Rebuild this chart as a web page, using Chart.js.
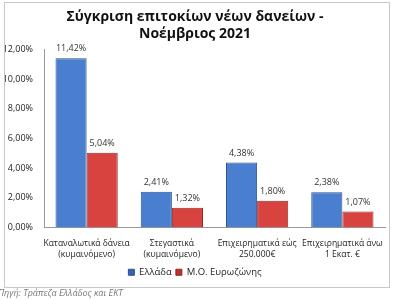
<!DOCTYPE html>
<html>
<head>
<meta charset="utf-8">
<script src="https://cdn.jsdelivr.net/npm/chart.js@4"></script>
<style>
    body { margin: 0; background: #fff; width: 393px; height: 300px; overflow: hidden; position: relative; }
    #box { position: absolute; left: 4px; top: 2px; width: 384px; height: 284px; border: 1px solid #c8c8c8; }
    #src { position: absolute; left: -2px; top: 286px; font: italic 9px "Open Sans", sans-serif; color: #777; }
</style>
</head>
<body>
<div id="box"><canvas id="chart" width="384" height="284"></canvas></div>
<div id="src">Πηγή: Τράπεζα Ελλάδος και ΕΚΤ</div>
<script>
const categories = [
    ['Καταναλωτικά δάνεια', '(κυμαινόμενο)'],
    ['Στεγαστικά', '(κυμαινόμενο)'],
    ['Επιχειρηματικά εώς', '250.000€'],
    ['Επιχειρηματικά άνω', '1 Εκατ. €']
];
const greece = [11.42, 2.41, 4.38, 2.38];
const eurozone = [5.04, 1.32, 1.80, 1.07];
const seriesNames = ['Ελλάδα', 'Μ.Ο. Ευρωζώνης'];

function fmt(v) {
    return v.toFixed(2).replace('.', ',') + '%';
}

// left-to-right shading so the bars look a bit rounded like the original
function shade(light, mid, dark) {
    return ctx => {
        const bar = ctx.element;
        if (!bar || bar.width === undefined) return mid;
        const c = ctx.chart.ctx;
        const g = c.createLinearGradient(bar.x - bar.width / 2, 0, bar.x + bar.width / 2, 0);
        g.addColorStop(0, light);
        g.addColorStop(0.25, mid);
        g.addColorStop(1, dark);
        return g;
    };
}

const valueLabels = {
    id: 'valueLabels',
    afterDatasetsDraw(chart) {
        const ctx = chart.ctx;
        ctx.save();
        ctx.font = '9px "Open Sans", sans-serif';
        ctx.fillStyle = '#333';
        ctx.textAlign = 'center';
        ctx.textBaseline = 'bottom';
        chart.data.datasets.forEach((ds, i) => {
            chart.getDatasetMeta(i).data.forEach((bar, j) => {
                ctx.fillText(fmt(ds.data[j]), bar.x, bar.y - 5);
            });
        });
        ctx.restore();
    }
};

new Chart(document.getElementById('chart'), {
    type: 'bar',
    data: {
        labels: categories,
        datasets: [
            {
                label: seriesNames[0],
                data: greece,
                backgroundColor: shade('#6a9be0', '#4a7fd0', '#3563b0'),
                borderColor: '#2c5193',
                borderWidth: 1
            },
            {
                label: seriesNames[1],
                data: eurozone,
                backgroundColor: shade('#e56b66', '#d8433f', '#b83230'),
                borderColor: '#9b2624',
                borderWidth: 1
            }
        ]
    },
    options: {
        responsive: false,
        animation: false,
        layout: { padding: { left: 0, right: 4, top: 0, bottom: 0 } },
        datasets: { bar: { categoryPercentage: 0.73, barPercentage: 1 } },
        plugins: {
            title: {
                display: true,
                text: ['Σύγκριση επιτοκίων νέων δανείων -', 'Νοέμβριος 2021'],
                font: { family: '"Open Sans", sans-serif', size: 14, weight: 'bold' },
                color: '#111',
                padding: { top: 6, bottom: 7 },
                lineHeight: 1.57
            },
            legend: {
                position: 'bottom',
                labels: {
                    boxWidth: 6,
                    boxHeight: 6,
                    padding: 4,
                    color: '#222',
                    font: { family: '"Open Sans", sans-serif', size: 9.5 }
                }
            },
            tooltip: { enabled: false }
        },
        scales: {
            x: {
                grid: { display: false },
                border: { color: '#999' },
                ticks: {
                    color: '#222',
                    maxRotation: 0,
                    autoSkip: false,
                    padding: 3,
                    font: { family: '"Open Sans", sans-serif', size: 8.5, lineHeight: 1.3 }
                }
            },
            y: {
                min: 0,
                max: 12,
                grid: { display: false },
                border: { color: '#999' },
                afterFit: s => { s.width = 39; },
                ticks: {
                    stepSize: 2,
                    color: '#222',
                    font: { family: '"Open Sans", sans-serif', size: 9 },
                    callback: v => fmt(v)
                }
            }
        }
    },
    plugins: [valueLabels]
});
</script>
</body>
</html>
